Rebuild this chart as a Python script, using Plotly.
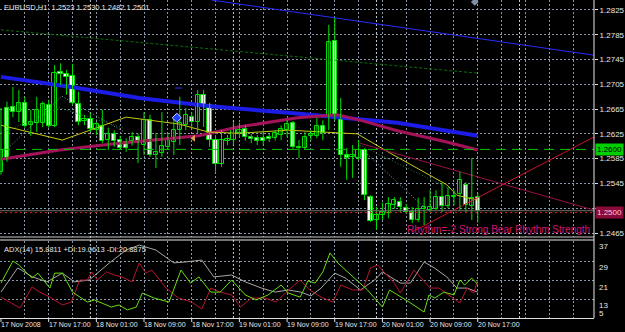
import plotly.graph_objects as go

# ---------------- DATA ----------------
bars = list(range(81))  # hourly bars, 17 Nov 09:00 .. 20 Nov 17:00
opens = [1.2564, 1.2667, 1.2668, 1.2660, 1.2675, 1.2639, 1.2643, 1.2643, 1.2672, 1.2638,
         1.2725, 1.2722, 1.2718, 1.2673, 1.2646, 1.2649, 1.2631, 1.2638, 1.2615, 1.2625,
         1.2615, 1.2612, 1.2614, 1.2620, 1.2607, 1.2647, 1.2591, 1.2594, 1.2604, 1.2612,
         1.2631, 1.2639, 1.2652, 1.2644, 1.2688, 1.2672, 1.2615, 1.2576, 1.2614, 1.2615,
         1.2626, 1.2633, 1.2620, 1.2618, 1.2618, 1.2620, 1.2618, 1.2623, 1.2631, 1.2643,
         1.2604, 1.2602, 1.2622, 1.2622, 1.2638, 1.2652, 1.2775, 1.2651, 1.2591, 1.2588,
         1.2586, 1.2599, 1.2523, 1.2486, 1.2494, 1.2497, 1.2510, 1.2515, 1.2505, 1.2499,
         1.2486, 1.2504, 1.2502, 1.2504, 1.2523, 1.2509, 1.2523, 1.2528, 1.2543, 1.2508,
         1.2523]
highs = [1.2667, 1.2677, 1.2701, 1.2696, 1.2685, 1.2664, 1.2685, 1.2677, 1.2680, 1.2736,
         1.2739, 1.2728, 1.2738, 1.2693, 1.2656, 1.2659, 1.2644, 1.2664, 1.2635, 1.2631,
         1.2622, 1.2618, 1.2628, 1.2625, 1.2660, 1.2656, 1.2626, 1.2660, 1.2626, 1.2652,
         1.2685, 1.2667, 1.2660, 1.2696, 1.2696, 1.2675, 1.2623, 1.2631, 1.2623, 1.2644,
         1.2643, 1.2639, 1.2625, 1.2623, 1.2631, 1.2626, 1.2631, 1.2639, 1.2647, 1.2646,
         1.2615, 1.2628, 1.2631, 1.2651, 1.2647, 1.2801, 1.2812, 1.2683, 1.2602, 1.2607,
         1.2615, 1.2602, 1.2526, 1.2507, 1.2514, 1.2523, 1.2523, 1.2523, 1.2512, 1.2507,
         1.2522, 1.2523, 1.2534, 1.2534, 1.2546, 1.2539, 1.2534, 1.2564, 1.2547, 1.2586,
         1.2530]
lows = [1.2559, 1.2580, 1.2652, 1.2644, 1.2635, 1.2622, 1.2628, 1.2636, 1.2635, 1.2636,
        1.2704, 1.2688, 1.2672, 1.2639, 1.2639, 1.2628, 1.2623, 1.2610, 1.2599, 1.2604,
        1.2599, 1.2596, 1.2606, 1.2578, 1.2591, 1.2588, 1.2570, 1.2588, 1.2599, 1.2591,
        1.2607, 1.2631, 1.2631, 1.2626, 1.2636, 1.2604, 1.2564, 1.2572, 1.2607, 1.2607,
        1.2620, 1.2614, 1.2610, 1.2607, 1.2606, 1.2612, 1.2614, 1.2615, 1.2620, 1.2601,
        1.2586, 1.2599, 1.2615, 1.2618, 1.2615, 1.2631, 1.2647, 1.2572, 1.2551, 1.2554,
        1.2583, 1.2518, 1.2483, 1.2470, 1.2486, 1.2489, 1.2504, 1.2499, 1.2496, 1.2481,
        1.2483, 1.2478, 1.2499, 1.2502, 1.2499, 1.2505, 1.2510, 1.2502, 1.2499, 1.2486,
        1.2482]
closes = [1.2599, 1.2586, 1.2660, 1.2675, 1.2638, 1.2644, 1.2664, 1.2673, 1.2638, 1.2723,
          1.2722, 1.2717, 1.2675, 1.2644, 1.2649, 1.2633, 1.2641, 1.2614, 1.2625, 1.2614,
          1.2602, 1.2602, 1.2620, 1.2614, 1.2647, 1.2591, 1.2596, 1.2606, 1.2615, 1.2631,
          1.2643, 1.2656, 1.2644, 1.2688, 1.2672, 1.2615, 1.2576, 1.2615, 1.2617, 1.2635,
          1.2631, 1.2620, 1.2617, 1.2614, 1.2614, 1.2617, 1.2626, 1.2633, 1.2641, 1.2604,
          1.2602, 1.2620, 1.2625, 1.2638, 1.2626, 1.2773, 1.2652, 1.2591, 1.2586, 1.2591,
          1.2599, 1.2526, 1.2484, 1.2494, 1.2499, 1.2512, 1.2518, 1.2507, 1.2499, 1.2486,
          1.2504, 1.2507, 1.2507, 1.2523, 1.2509, 1.2525, 1.2525, 1.2551, 1.2510, 1.2522,
          1.2501]

label_bars = [0, 8, 16, 24, 32, 40, 48, 56, 64, 72, 80]
time_labels = ["17 Nov 2008", "17 Nov 17:00", "18 Nov 01:00", "18 Nov 09:00", "18 Nov 17:00",
               "19 Nov 01:00", "19 Nov 09:00", "19 Nov 17:00", "20 Nov 01:00", "20 Nov 09:00",
               "20 Nov 17:00"]
day_separators = [15, 39, 63, 87]

price_ticks = [1.2825, 1.2785, 1.2745, 1.2705, 1.2665, 1.2625, 1.2585, 1.2545, 1.2505, 1.2465]
adx_ticks = [37, 29, 21, 13, 5]

# moving averages (vertices)
ma_blue_x = [0, 11.5, 23.2, 34.8, 48.2, 56.5, 66.5, 80]
ma_blue_y = [1.2717, 1.2701, 1.2683, 1.2670, 1.2659, 1.2652, 1.2643, 1.2622]
ma_mag_x = [0, 9.8, 19.8, 33.2, 39.8, 49.8, 56.5, 60.7, 66.5, 74.8, 80]
ma_mag_y = [1.2584, 1.2599, 1.2610, 1.2622, 1.2636, 1.2651, 1.2656, 1.2646, 1.2630, 1.2612, 1.2599]
ma_yel_x = [0, 10.3, 21, 29.8, 34.8, 39.8, 48.2, 54.8, 59.8, 65.3, 70.3, 74.8, 76.5, 80]
ma_yel_y = [1.2639, 1.2615, 1.2652, 1.2641, 1.2628, 1.2626, 1.2631, 1.2628, 1.2625, 1.2594,
            1.2567, 1.2543, 1.2526, 1.2518]

# trend lines / objects
dkgreen_x = [0, 80];        dkgreen_y = [1.2793, 1.2723]
bluetl_x = [35.3, 99.5];    bluetl_y = [1.2841, 1.2752]
maroontl_x = [60.2, 99.5];  maroontl_y = [1.2610, 1.2502]
redtl_x = [69, 99.5];       redtl_y = [1.2467, 1.2620]
steel1_x = [60.7, 71.5];    steel1_y = [1.2599, 1.2502]
green1_x = [60.2, 76.5];    green1_y = [1.2607, 1.2531]
steel2_x = [1.2, 10.2, 20.7]; steel2_y = [1.2602, 1.2686, 1.2628]
green2_x = [0, 9.8, 20.7];  green2_y = [1.2626, 1.2667, 1.2634]
hline_green = 1.2600
hline_red = 1.2498
bid_line = 1.2501

# ADX(14) panel vertices
pdi_x = [0, 2, 3, 5.2, 6.2, 8.2, 9, 10.3, 12, 14.5, 15.7, 18.5, 19.8, 21.2, 22.7, 23.7, 25.7,
         28.2, 30.2, 31.8, 33.2, 35.2, 36.8, 38.7, 41, 42.8, 44.8, 47, 48.2, 50.2, 51.5, 52.7,
         54, 55.2, 56.5, 61.5, 64, 65.2, 68.5, 71, 71.8, 72.8, 74.3, 76, 77, 77.8, 79, 80]
pdi_y = [19.7, 29.0, 27.3, 21.8, 23.9, 17.6, 23.9, 23.9, 15.9, 11.7, 12.6, 9.6, 10.5, 8.4, 9.6,
         15.5, 13.4, 11.7, 25.2, 19.7, 22.3, 15.9, 15.9, 21.0, 14.7, 12.6, 14.7, 18.9, 15.5, 13.8,
         20.6, 19.7, 24.4, 32.4, 28.2, 16.8, 9.6, 16.8, 11.7, 7.5, 14.7, 13.4, 15.9, 14.7, 21.0,
         18.9, 21.8, 19.0613]
mdi_x = [0, 3.2, 5.2, 6.5, 8.2, 10.3, 11.8, 13.2, 14.5, 15.2, 16.2, 17.7, 19, 20.3, 22, 23.2,
         24.3, 25.3, 27.7, 29.8, 32, 33.7, 35.2, 36.8, 38.7, 40.2, 42, 44.3, 46.2, 47.7, 50.2,
         51.8, 53.7, 55.7, 57, 59, 60.7, 62, 63.2, 66, 67, 69.3, 72, 73.5, 77, 78.2, 79.3, 80]
mdi_y = [13.8, 9.2, 18.1, 15.9, 13.8, 10.5, 11.7, 21.0, 21.0, 24.4, 21.0, 24.4, 23.1, 22.3, 20.2,
         28.2, 23.9, 25.2, 17.6, 13.4, 11.7, 8.8, 17.6, 15.9, 14.7, 9.6, 13.4, 13.4, 11.7, 15.5,
         21.0, 16.8, 13.8, 11.7, 18.9, 16.8, 16.8, 26.1, 27.3, 19.7, 15.5, 25.2, 17.6, 17.6, 11.3,
         17.6, 15.5, 20.8875]
adx_x = [0, 2.8, 5.3, 7.7, 10.3, 12.3, 14.8, 18.2, 21, 23.2, 26, 29, 31, 33.7, 35.7, 38.7, 41,
         43.7, 46, 48.2, 50.3, 52, 53.7, 56, 57.8, 60.3, 62.7, 64, 67, 68.7, 71, 72.7, 74.8, 76.5,
         78.2, 80]
adx_y = [15.9, 26.1, 22.3, 20.2, 23.9, 20.2, 21.0, 28.2, 33.6, 35.7, 33.6, 28.2, 28.6, 29.4, 22.3,
         23.1, 20.2, 17.6, 15.9, 16.8, 15.9, 14.3, 17.6, 23.9, 21.8, 16.8, 21.0, 24.4, 19.7, 19.7,
         28.6, 26.1, 22.3, 17.6, 17.6, 15.8811]

# ---------------- FIGURE ----------------
W, H = 625, 332
ML, MR, MT, MB = 0, 27, 0, 14
PH = H - MT - MB            # 318 px plot height
PRICE_BOTTOM_PX = 237
ADX_TOP_PX = 241
X_RANGE = [-1 / 6, 99.5]
Y_RANGE = [1.24586, 1.28411]
ADX_RANGE = [5, 37.42]
GRID = "#8895a4"
FONT = "Liberation Sans"
CANDLE = "#00e000"

fig = go.Figure()


def line(x, y, color, width=1, dash="solid", yaxis="y", xaxis="x"):
    fig.add_trace(go.Scatter(x=x, y=y, mode="lines", xaxis=xaxis, yaxis=yaxis,
                             line=dict(color=color, width=width, dash=dash),
                             hoverinfo="skip", showlegend=False))


line(dkgreen_x, dkgreen_y, "#0a6e0a", 1, "3px,2px")
line(steel2_x, steel2_y, "#7a9ab0", 1, "1px,2px")
line(green2_x, green2_y, "#1f7a3a", 1, "1px,2px")
line(steel1_x, steel1_y, "#7a9ab0", 1, "1px,2px")
line(green1_x, green1_y, "#1f7a3a", 1, "1px,2px")
line(ma_blue_x, ma_blue_y, "#1c1ce6", 4)
line(ma_mag_x, ma_mag_y, "#a4125a", 3)
line(ma_yel_x, ma_yel_y, "#c8c814", 1)
line(bluetl_x, bluetl_y, "#2a2aff", 1)
line(maroontl_x, maroontl_y, "#9a1048", 1)
line(redtl_x, redtl_y, "#c8102e", 1)

# candles: wicks + bodies
wx, wy = [], []
for i, h, l in zip(bars, highs, lows):
    wx += [i, i, None]
    wy += [l, h, None]
fig.add_trace(go.Scatter(x=wx, y=wy, mode="lines", xaxis="x", yaxis="y",
                         line=dict(color=CANDLE, width=1), hoverinfo="skip", showlegend=False))
body_base = [min(o, c) for o, c in zip(opens, closes)]
body_h = [max(abs(c - o), 0.00006) for o, c in zip(opens, closes)]
body_fill = ["#000000" if c > o else "#ffffff" for o, c in zip(opens, closes)]
fig.add_trace(go.Bar(x=bars, y=body_h, base=body_base, width=0.72, xaxis="x", yaxis="y",
                     marker=dict(color=body_fill, line=dict(color=CANDLE, width=1)),
                     hoverinfo="skip", showlegend=False))

# small markers
fig.add_trace(go.Scatter(x=[29.5], y=[1.2651], mode="markers", xaxis="x", yaxis="y",
                         marker=dict(symbol="diamond", size=7, color="#2040ff",
                                     line=dict(color="#c0d0ff", width=1)),
                         hoverinfo="skip", showlegend=False))
fig.add_trace(go.Scatter(x=[32.3], y=[1.2618], mode="markers", xaxis="x", yaxis="y",
                         marker=dict(symbol="triangle-left", size=6, color="#e0a050"),
                         hoverinfo="skip", showlegend=False))
fig.add_trace(go.Scatter(x=[79.5], y=[1.2838], mode="markers", xaxis="x", yaxis="y",
                         marker=dict(symbol="diamond", size=6, color="#8090a8"),
                         hoverinfo="skip", showlegend=False))
line([29.2, 30.4], [1.2699, 1.2699], "#2a2aff", 1)

# ADX panel
line(adx_x, adx_y, "#a8a8a8", 1, yaxis="y2", xaxis="x2")
line(mdi_x, mdi_y, "#b8142e", 1, yaxis="y2", xaxis="x2")
line(pdi_x, pdi_y, "#66dd11", 1, yaxis="y2", xaxis="x2")

price_dom = [1 - PRICE_BOTTOM_PX / PH, 1]
adx_dom = [0, 1 - ADX_TOP_PX / PH]

price_text = ["%.4f" % v if v != 1.2505 else "" for v in price_ticks]

fig.update_layout(
    width=W, height=H, margin=dict(l=ML, r=MR, t=MT, b=MB),
    paper_bgcolor="#000000", plot_bgcolor="#000000", showlegend=False,
    barmode="overlay", bargap=0,
    font=dict(family=FONT, color="#e6e6e6", size=8),
    xaxis=dict(domain=[0, 1], range=X_RANGE, anchor="y", showticklabels=False,
               tickmode="linear", tick0=0, dtick=4, showgrid=True, gridcolor=GRID,
               griddash="2px,2px", gridwidth=1, zeroline=False, ticks=""),
    xaxis2=dict(domain=[0, 1], range=X_RANGE, anchor="y2", matches="x", showticklabels=False,
                tickmode="linear", tick0=0, dtick=4, showgrid=True, gridcolor=GRID,
                griddash="2px,2px", zeroline=False, ticks="", showline=True,
                linecolor="#e0e0e0", linewidth=1),
    yaxis=dict(domain=price_dom, range=Y_RANGE, side="right", anchor="x",
               tickmode="array", tickvals=price_ticks, ticktext=price_text,
               showgrid=True, gridcolor=GRID, griddash="2px,2px", zeroline=False,
               ticks="outside", ticklen=3, tickcolor="#e0e0e0",
               tickfont=dict(family=FONT, size=8, color="#e6e6e6")),
    yaxis2=dict(domain=adx_dom, range=ADX_RANGE, side="right", anchor="x2",
                tickmode="array", tickvals=[29, 21, 13], showticklabels=False,
                showgrid=True, gridcolor=GRID, griddash="2px,2px", zeroline=False,
                ticks=""),
)

shapes = []
for b in day_separators:
    shapes.append(dict(type="line", xref="x", yref="paper", x0=b, x1=b, y0=0, y1=1,
                       line=dict(color="#c4ccd6", width=1, dash="2px,2px"), layer="below"))
shapes.append(dict(type="line", xref="paper", yref="y", x0=0, x1=1, y0=bid_line, y1=bid_line,
                   line=dict(color="#707070", width=1)))
shapes.append(dict(type="line", xref="paper", yref="y", x0=0, x1=1, y0=hline_red, y1=hline_red,
                   line=dict(color="#d02020", width=1, dash="2px,3px")))
shapes.append(dict(type="line", xref="paper", yref="y", x0=0, x1=1, y0=hline_green, y1=hline_green,
                   line=dict(color="#00c800", width=1, dash="10px,6px")))
for py, col in [(PRICE_BOTTOM_PX, "#c8c8c8"), (PRICE_BOTTOM_PX + 3, "#e8e8e8")]:
    yy = 1 - py / PH
    shapes.append(dict(type="line", xref="paper", yref="paper", x0=0, x1=1, y0=yy, y1=yy,
                       line=dict(color=col, width=1)))
shapes.append(dict(type="line", xref="paper", yref="paper", x0=1, x1=1, y0=0, y1=1,
                   line=dict(color="#e8e8e8", width=1)))
for b in label_bars:
    shapes.append(dict(type="line", xref="x", yref="paper", x0=b, x1=b, y0=0, y1=-4 / PH,
                       line=dict(color="#e0e0e0", width=1)))
fig.update_layout(shapes=shapes)

ann = []
for b, t in zip(label_bars, time_labels):
    ann.append(dict(x=b, xref="x2", y=0, yref="paper", text=t, showarrow=False,
                    xanchor="left", yanchor="top", xshift=-2, yshift=-1,
                    font=dict(family=FONT, size=7, color="#e6e6e6")))
adx_shift = {37: -4, 29: -6, 21: -7, 13: -6, 5: 5}
for v in adx_ticks:
    ann.append(dict(x=1, xref="paper", y=v, yref="y2", text=str(v), showarrow=False,
                    xanchor="left", yanchor="middle", xshift=3, yshift=adx_shift[v],
                    font=dict(family=FONT, size=8, color="#e6e6e6")))
ann.append(dict(x=1, xref="paper", y=hline_green, yref="y", text="1.2600", showarrow=False,
                xanchor="left", yanchor="middle", xshift=1, bgcolor="#00d000",
                borderpad=1, font=dict(family=FONT, size=8, color="#000000")))
ann.append(dict(x=1, xref="paper", y=hline_red, yref="y", text="1.2500", showarrow=False,
                xanchor="left", yanchor="middle", xshift=1, bgcolor="#8a0a3a",
                borderpad=1, font=dict(family=FONT, size=8, color="#ffc8dc")))
ann.append(dict(x=0.004, xref="paper", y=1, yref="paper",
                text="EURUSD,H1  %.4f %.4f %.4f %.4f" % (opens[-1], highs[-1], lows[-1], closes[-1]),
                showarrow=False, xanchor="left", yanchor="top", yshift=-1,
                font=dict(family=FONT, size=7.5, color="#e6e6e6")))
ann.append(dict(x=0.004, xref="paper", y=adx_dom[1], yref="paper",
                text="ADX(14) %.4f +DI:%.4f -DI:%.4f" % (adx_y[-1], pdi_y[-1], mdi_y[-1]),
                showarrow=False, xanchor="left", yanchor="top", yshift=-2,
                font=dict(family=FONT, size=7.5, color="#e6e6e6")))
ann.append(dict(x=596 / 598, xref="paper", y=1 - 230 / PH, yref="paper",
                text="Rhythm=-2 Strong Bear Rhythm Strength", showarrow=False,
                xanchor="right", yanchor="middle",
                font=dict(family=FONT, size=10, color="#d0147a")))
fig.update_layout(annotations=ann)

fig.write_html("out.html")
